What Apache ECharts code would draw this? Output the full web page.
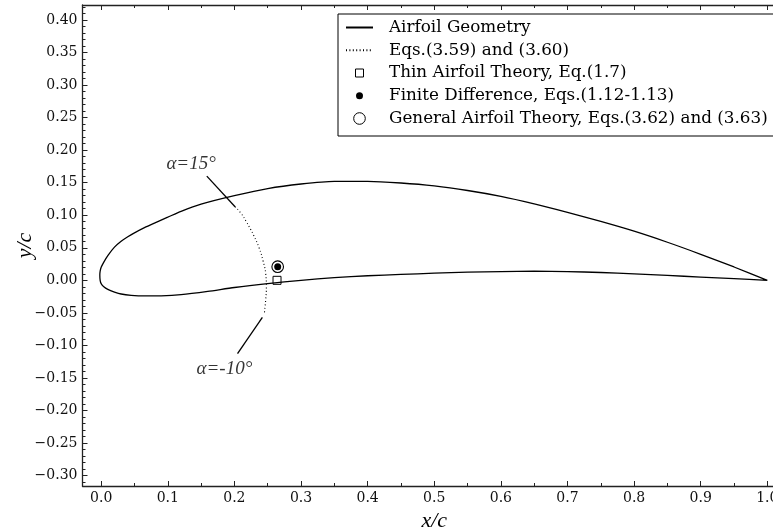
<!DOCTYPE html>
<html><head><meta charset="utf-8">
<script src="https://cdn.jsdelivr.net/npm/echarts@6/dist/echarts.min.js"></script>
<style>html,body{margin:0;padding:0;background:#fff;overflow:hidden;width:773px;height:531px}#c{width:786px;height:531px}</style>
</head><body><div id="c"></div>
<script>
// ---- data ----
const airfoilUpper = [[1.0,0.0],[0.95,0.0205],[0.9,0.040],[0.85,0.0585],[0.8,0.0755],[0.75,0.0905],[0.7,0.1045],[0.65,0.1175],[0.6,0.129],[0.55,0.138],[0.5,0.145],[0.45,0.1495],[0.4,0.152],[0.35,0.152],[0.3,0.148],[0.25,0.141],[0.2,0.130],[0.15,0.117],[0.12,0.106],[0.1,0.097],[0.08,0.088],[0.065,0.081],[0.05,0.073],[0.04,0.067],[0.03,0.060],[0.02,0.051],[0.01,0.038],[0.004,0.028],[0.0,0.020],[-0.0015,0.014],[-0.002,0.008]];
const airfoilLower = [[-0.002,0.008],[-0.0015,0.0],[0.0,-0.005],[0.004,-0.010],[0.01,-0.014],[0.02,-0.018],[0.03,-0.021],[0.045,-0.023],[0.065,-0.024],[0.09,-0.0238],[0.12,-0.022],[0.16,-0.017],[0.2,-0.011],[0.25,-0.005],[0.3,0.000],[0.35,0.004],[0.4,0.007],[0.45,0.009],[0.5,0.011],[0.55,0.0125],[0.6,0.0135],[0.65,0.014],[0.7,0.0135],[0.75,0.012],[0.8,0.010],[0.85,0.0075],[0.9,0.005],[0.95,0.0025],[1.0,0.0]];
const locusPoints = [[0.201,0.113],[0.210,0.103],[0.218,0.090],[0.224,0.079],[0.229,0.069],[0.237,0.050],[0.243,0.030],[0.247,0.010],[0.248,-0.010],[0.247,-0.030],[0.245,-0.050]];
const thinAirfoilPoint = [[0.264,0.0]];
const finiteDiffPoint = [[0.265,0.021]];
const generalTheoryPoint = [[0.265,0.021]];
const annotLine15 = [[0.1586,0.160],[0.201,0.113]];
const annotLineM10 = [[0.2047,-0.1125],[0.242,-0.057]];
const annotTexts = ['α=15°','α=-10°'];
const annotAnchors = [[0.135,0.178],[0.185,-0.137]];
const seriesNames = ['Airfoil Geometry','Eqs.(3.59) and (3.60)','Thin Airfoil Theory, Eq.(1.7)','Finite Difference, Eqs.(1.12-1.13)','General Airfoil Theory, Eqs.(3.62) and (3.63)'];
const xMajorTicks = [0.0,0.1,0.2,0.3,0.4,0.5,0.6,0.7,0.8,0.9,1.0];
const xMinorTicks = [0.05,0.15,0.25,0.35,0.45,0.55,0.65,0.75,0.85,0.95];
const yMajorTicks = [-0.30,-0.25,-0.20,-0.15,-0.10,-0.05,0.00,0.05,0.10,0.15,0.20,0.25,0.30,0.35,0.40];
const yMinorTicks = [-0.31,-0.29,-0.28,-0.27,-0.26,-0.24,-0.23,-0.22,-0.21,-0.19,-0.18,-0.17,-0.16,-0.14,-0.13,-0.12,-0.11,-0.09,-0.08,-0.07,-0.06,-0.04,-0.03,-0.02,-0.01,0.01,0.02,0.03,0.04,0.06,0.07,0.08,0.09,0.11,0.12,0.13,0.14,0.16,0.17,0.18,0.19,0.21,0.22,0.23,0.24,0.26,0.27,0.28,0.29,0.31,0.32,0.33,0.34,0.36,0.37,0.38,0.39,0.41,0.42];

// ---- styling ----
const X_MIN = -0.028, X_MAX = 1.028, Y_MIN = -0.316, Y_MAX = 0.423;
const spine = {color:'#222', width:1.3};
const tickStyle = {color:'#222', width:1};
const serif = 'DejaVu Serif';
const sqIcon = 'path://M0,0M14,14M3,3L11,3L11,11L3,11Z';
const dotIcon = 'path://M0,0M14,14M3.5,7A3.5,3.5,0,1,1,10.5,7A3.5,3.5,0,1,1,3.5,7Z';
const ringIcon = 'path://M0,0M14,14M1.2,7A5.8,5.8,0,1,1,12.8,7A5.8,5.8,0,1,1,1.2,7Z';

function xAx(pos, ticks, len, line, extra) {
  return Object.assign({type:'value', position:pos, min:X_MIN, max:X_MAX,
    axisLine:{show:line, onZero:false, lineStyle:spine},
    axisTick:{show:true, inside:true, length:len, customValues:ticks, lineStyle:tickStyle},
    axisLabel:{show:false}, splitLine:{show:false}}, extra||{});
}
function yAx(pos, ticks, len, line, extra) {
  return Object.assign({type:'value', position:pos, min:Y_MIN, max:Y_MAX,
    axisLine:{show:line, onZero:false, lineStyle:spine},
    axisTick:{show:true, inside:true, length:len, customValues:ticks, lineStyle:tickStyle},
    axisLabel:{show:false}, splitLine:{show:false}}, extra||{});
}
const fmtY = v => (v < 0 ? '\u2212' : '') + Math.abs(v).toFixed(2);

const option = {
  animation:false,
  backgroundColor:'#fff',
  grid:{left:82.5, top:5, right:0, bottom:45, containLabel:false, outerBoundsMode:'none'},
  xAxis:[
    xAx('bottom', xMajorTicks, 5, true, {
      axisLabel:{show:true, customValues:xMajorTicks, formatter:v=>v.toFixed(1), fontFamily:serif, fontSize:14, color:'#111', margin:5},
      name:'x/c', nameLocation:'middle', nameGap:23,
      nameTextStyle:{fontFamily:'Liberation Serif', fontStyle:'italic', fontSize:22, color:'#000'}}),
    xAx('top', xMajorTicks, 5, true),
    xAx('bottom', xMinorTicks, 3, false),
    xAx('top', xMinorTicks, 3, false)
  ],
  yAxis:[
    yAx('left', yMajorTicks, 5, true, {
      axisLabel:{show:true, customValues:yMajorTicks, formatter:fmtY, fontFamily:serif, fontSize:14, color:'#111', margin:5},
      name:'y/c', nameLocation:'middle', nameGap:46, nameRotate:90, nameMoveOverlap:false,
      nameTextStyle:{fontFamily:'Liberation Serif', fontStyle:'italic', fontSize:22, color:'#000'}}),
    yAx('right', yMajorTicks, 5, true),
    yAx('left', yMinorTicks, 3, false),
    yAx('right', yMinorTicks, 3, false)
  ],
  legend:{
    orient:'vertical', left:338, top:14,
    padding:[5,10,9,7], itemWidth:27, itemHeight:14, itemGap:5.75,
    backgroundColor:'#fff', borderColor:'#000', borderWidth:1, borderRadius:0,
    selectedMode:false,
    textStyle:{fontFamily:serif, fontSize:16.8, color:'#000', padding:[0,0,0,11]},
    data:[
      {name:seriesNames[0], itemStyle:{opacity:0}},
      {name:seriesNames[1], itemStyle:{opacity:0}},
      {name:seriesNames[2], icon:sqIcon, itemStyle:{color:'#fff', borderColor:'#000', borderWidth:1}},
      {name:seriesNames[3], icon:dotIcon, itemStyle:{color:'#000', borderColor:'#000', borderWidth:0}},
      {name:seriesNames[4], icon:ringIcon, itemStyle:{color:'rgba(0,0,0,0)', borderColor:'#000', borderWidth:1}}
    ]
  },
  series:[
    {name:seriesNames[0], type:'line', data:airfoilUpper.concat(airfoilLower.slice(1)), symbol:'none', smooth:0.25,
     lineStyle:{color:'#000', width:1.3}, itemStyle:{color:'#000'}, z:3},
    {name:seriesNames[1], type:'line', data:locusPoints, symbol:'none', smooth:true,
     lineStyle:{color:'#000', width:1.1, type:[1,2.4]}, itemStyle:{color:'#000'}, z:3},
    {name:'annot15', type:'line', data:annotLine15, symbol:'none', lineStyle:{color:'#000', width:1.3}, silent:true, z:3},
    {name:'annotM10', type:'line', data:annotLineM10, symbol:'none', lineStyle:{color:'#000', width:1.3}, silent:true, z:3},
    {name:'annotText', type:'scatter', symbolSize:1, itemStyle:{color:'rgba(0,0,0,0)'}, silent:true,
     data:annotTexts.map((t,i)=>({name:t, value:annotAnchors[i]})),
     label:{show:true, position:'inside', formatter:'{b}', fontFamily:'Liberation Serif', fontStyle:'italic', fontSize:19, color:'#000'}},
    {name:seriesNames[2], type:'scatter', data:thinAirfoilPoint, symbol:sqIcon, symbolSize:14,
     itemStyle:{color:'rgba(0,0,0,0)', borderColor:'#000', borderWidth:1, opacity:1}, z:5},
    {name:seriesNames[3], type:'scatter', data:finiteDiffPoint, symbol:dotIcon, symbolSize:14,
     itemStyle:{color:'#000', borderWidth:0, opacity:1}, z:5},
    {name:seriesNames[4], type:'scatter', data:generalTheoryPoint, symbol:ringIcon, symbolSize:14,
     itemStyle:{color:'rgba(0,0,0,0)', borderColor:'#000', borderWidth:1.1, opacity:1}, z:6}
  ]
};
const chart = echarts.init(document.getElementById('c'), null, {renderer:'canvas'});
chart.setOption(option);
</script>
</body></html>
